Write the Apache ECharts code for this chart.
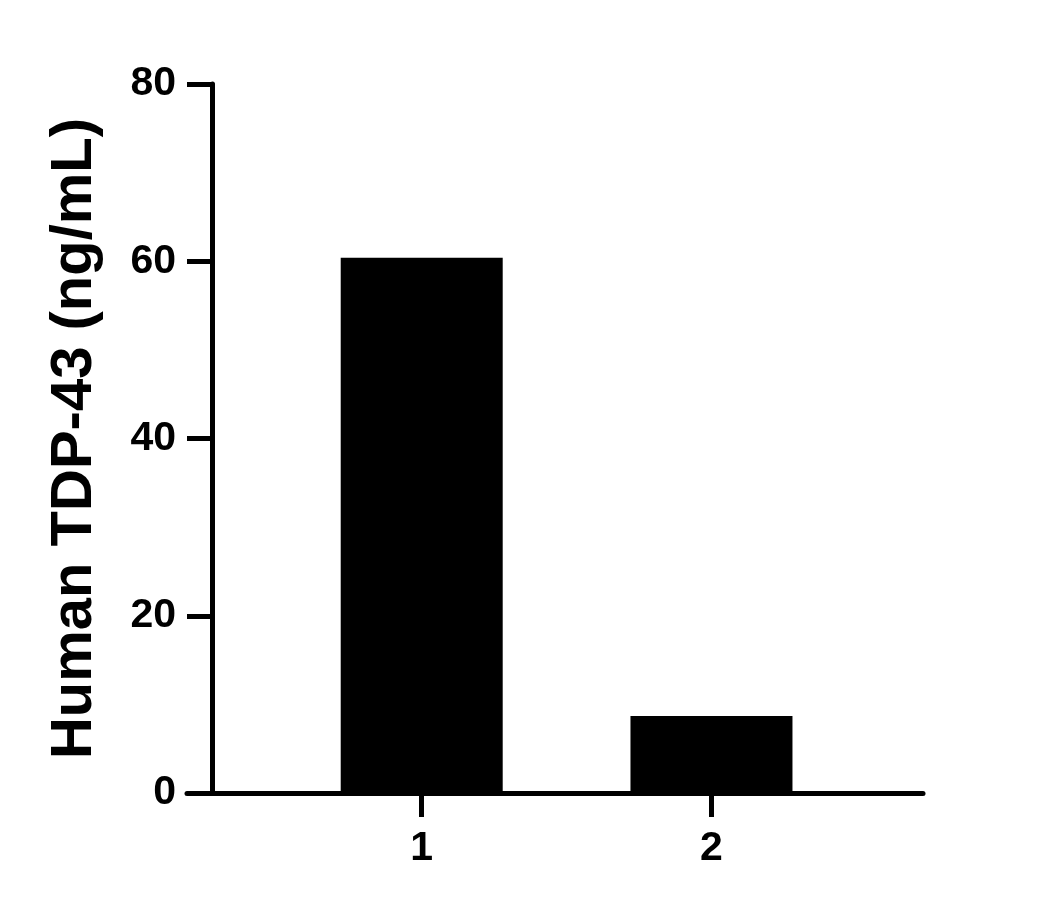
<!DOCTYPE html>
<html>
<head>
<meta charset="utf-8">
<script src="https://cdn.jsdelivr.net/npm/echarts@6/dist/echarts.min.js"></script>
<style>
	html, body { margin: 0; padding: 0; background: #fff; }
	#chart { width: 1054px; height: 910px; }
</style>
</head>
<body>
<div id="chart"></div>
<script>
// group labels and their positions on the x axis
var groups = ['1', '2'];
var groupPos = [1, 2];
// measured concentration per group
var values = [60.4, 8.7];
// y axis ticks
var yTicks = [0, 20, 40, 60, 80];

var chart = echarts.init(document.getElementById('chart'));

var barData = [];
for (var i = 0; i < groups.length; i++) {
	barData.push([groupPos[i], values[i]]);
}

var font = 'Liberation Sans, Arial, sans-serif';

var option = {
	backgroundColor: '#fff',
	animation: false,
	grid: {
		left: 187,
		right: 131,
		top: 84,
		bottom: 117
	},
	xAxis: {
		type: 'value',
		min: 0.19,
		max: 2.73,
		splitLine: { show: false },
		axisLine: {
			lineStyle: { color: '#000', width: 5 }
		},
		axisTick: {
			customValues: groupPos,
			length: 24,
			lineStyle: { color: '#000', width: 5 }
		},
		axisLabel: {
			customValues: groupPos,
			formatter: function (v) {
				return groups[groupPos.indexOf(v)];
			},
			margin: 35,
			color: '#000',
			fontSize: 41,
			fontWeight: 'bold',
			fontFamily: font
		}
	},
	yAxis: {
		type: 'value',
		min: yTicks[0],
		max: yTicks[yTicks.length - 1],
		interval: 20,
		offset: -25,
		splitLine: { show: false },
		axisLine: {
			show: true,
			lineStyle: { color: '#000', width: 5 }
		},
		axisTick: {
			show: true,
			length: 25,
			lineStyle: { color: '#000', width: 5 }
		},
		axisLabel: {
			margin: 36,
			color: '#000',
			fontSize: 41,
			fontWeight: 'bold',
			fontFamily: font
		},
		name: 'Human TDP-43 (ng/mL)',
		nameLocation: 'middle',
		nameGap: 108,
		nameTextStyle: {
			color: '#000',
			fontSize: 58,
			fontWeight: 'bold',
			fontFamily: font
		}
	},
	series: [{
		type: 'bar',
		data: barData,
		barWidth: 162,
		itemStyle: { color: '#000' }
	}]
};

chart.setOption(option);
</script>
</body>
</html>
